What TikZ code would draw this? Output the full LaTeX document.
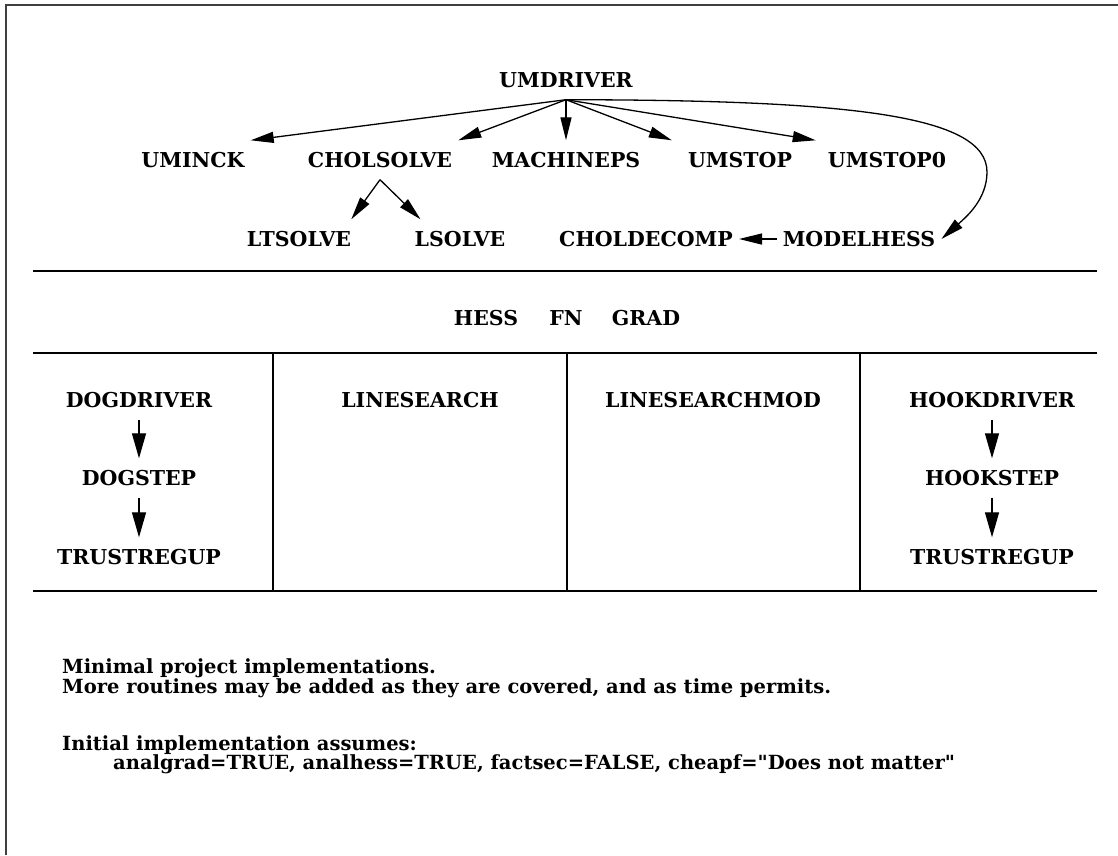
\documentclass[tikz,border=0pt]{standalone}
\usepackage{fontspec}
\setmainfont{DejaVu Serif}[Ligatures=TeXOff]
\usetikzlibrary{arrows.meta}

\begin{document}
\begin{tikzpicture}[x=1pt, y=-1pt,
		lbl/.style={font=\bfseries\fontsize{20.5}{20}\selectfont, inner xsep=6pt, inner ysep=12pt, text height=15pt, text depth=0pt},
		txt/.style={font=\bfseries\fontsize{19.5}{20}\selectfont, inner sep=0pt, anchor=base west},
		arr/.style={line width=1.3pt, -{Triangle[length=23pt, width=11pt]}},
		darr/.style={line width=1.3pt, -{Triangle[length=25pt, width=14pt]}},
		rule/.style={line width=1.5pt}]
	%%%%% START %%%%%
	
	\useasboundingbox (0,0) rectangle (1118,855);
	\draw[line width=1.5pt, color=black!75] (6,855) -- (6,5) -- (1118,5);
	
	% call graph
	\node[lbl] (umdriver) at (566,80) {UMDRIVER};
	\node[lbl] (uminck) at (193,160) {UMINCK};
	\node[lbl] (cholsolve) at (380,160) {CHOLSOLVE};
	\node[lbl] (machineps) at (566,160) {MACHINEPS};
	\node[lbl] (umstop) at (740,160) {UMSTOP};
	\node[lbl] (umstopzero) at (887,160) {UMSTOP0};
	\node[lbl] (ltsolve) at (299,239) {LTSOLVE};
	\node[lbl] (lsolve) at (460,239) {LSOLVE};
	\node[lbl] (choldecomp) at (646,239) {CHOLDECOMP};
	\node[lbl] (modelhess) at (859,239) {MODELHESS};
	
	\draw[arr] (umdriver.south) -- (uminck.north east);
	\draw[arr] (umdriver.south) -- (cholsolve.north east);
	\draw[arr] (umdriver.south) -- (machineps.north);
	\draw[arr] (umdriver.south) -- ([xshift=-10pt]umstop.north west);
	\draw[arr] (umdriver.south) -- ([xshift=-6pt]umstopzero.north west);
	\draw[arr] (umdriver.south) .. controls (850,100) and (987,115) .. (987,172)
		.. controls (987,200) and (965,218) .. (modelhess.east);
	\draw[arr] (cholsolve.south) -- ([xshift=-6pt]ltsolve.north east);
	\draw[arr] (cholsolve.south) -- ([xshift=12pt]lsolve.north west);
	\draw[arr] (modelhess.west) -- (choldecomp.east);
	
	\draw[rule] (33,271) -- (1097,271);
	
	% function nodes
	\node[lbl] (hess) at (486,318) {HESS};
	\node[lbl] (fn) at (566,318) {FN};
	\node[lbl] (grad) at (646,318) {GRAD};
	
	\draw[rule] (33,353) -- (1097,353);
	\draw[rule] (273,353) -- (273,591);
	\draw[rule] (567,353) -- (567,591);
	\draw[rule] (860,353) -- (860,591);
	\draw[rule] (33,591) -- (1097,591);
	
	% step columns
	\node[lbl] (dogdriver) at (139,400) {DOGDRIVER};
	\node[lbl] (dogstep) at (139,478) {DOGSTEP};
	\node[lbl] (dogtrust) at (139,557) {TRUSTREGUP};
	\node[lbl] (linesearch) at (420,400) {LINESEARCH};
	\node[lbl] (linesearchmod) at (713,400) {LINESEARCHMOD};
	\node[lbl] (hookdriver) at (992,400) {HOOKDRIVER};
	\node[lbl] (hookstep) at (992,478) {HOOKSTEP};
	\node[lbl] (hooktrust) at (992,557) {TRUSTREGUP};
	
	\draw[darr] (dogdriver.south) -- (dogstep.north);
	\draw[darr] (dogstep.south) -- (dogtrust.north);
	\draw[darr] (hookdriver.south) -- (hookstep.north);
	\draw[darr] (hookstep.south) -- (hooktrust.north);
	
	% notes
	\node[txt] (notea) at (62,673) {Minimal project implementations.};
	\node[txt] (noteb) at (62,693) {More routines may be added as they are covered, and as time permits.};
	\node[txt] (notec) at (62,750) {Initial implementation assumes:};
	\node[txt] (noted) at (113,769) {analgrad=TRUE, analhess=TRUE, factsec=FALSE, cheapf="Does not matter"};
	
	%%%%% END %%%%%
\end{tikzpicture}
\end{document}
